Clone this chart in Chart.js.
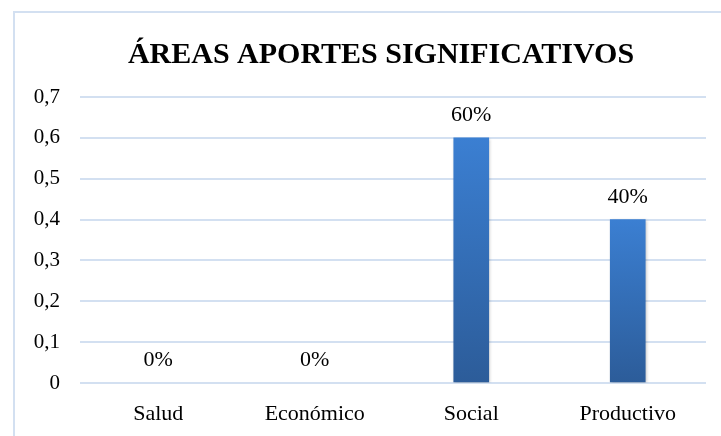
<!DOCTYPE html>
<html>
<head>
<meta charset="utf-8">
<script src="https://cdn.jsdelivr.net/npm/chart.js@4/dist/chart.umd.min.js"></script>
<style>
    html, body { margin: 0; padding: 0; background: #fff; overflow: hidden; }
    #wrap { position: absolute; left: 0; top: 0; width: 760px; height: 436px; }
</style>
</head>
<body>
<div id="wrap"><canvas id="areasChart"></canvas></div>
<script>
// Chart data
const categories = ['Salud', 'Económico', 'Social', 'Productivo'];
const values = [0, 0, 0.6, 0.4];
const yTickLabels = ['0', '0,1', '0,2', '0,3', '0,4', '0,5', '0,6', '0,7'];
const titleText = 'ÁREAS APORTES SIGNIFICATIVOS';

const serif = "'Liberation Serif', 'Times New Roman', Times, serif";

// Outer frame + title (the frame is cropped on the right and bottom like the original)
const framePlugin = {
    id: 'frame',
    beforeDraw(chart) {
        const ctx = chart.ctx;
        ctx.save();
        ctx.strokeStyle = '#d3e0f1';
        ctx.lineWidth = 2;
        ctx.strokeRect(14, 12, 900, 900);
        ctx.fillStyle = '#000';
        ctx.font = 'bold 30px ' + serif;
        ctx.textAlign = 'center';
        ctx.textBaseline = 'alphabetic';
        ctx.fillText(titleText, 381, 63);
        ctx.restore();
    }
};

// Soft shadow behind bars
const shadowPlugin = {
    id: 'barShadow',
    beforeDatasetsDraw(chart) {
        const ctx = chart.ctx;
        ctx.save();
        ctx.shadowColor = 'rgba(0, 0, 0, 0.25)';
        ctx.shadowBlur = 3;
        ctx.shadowOffsetX = 1;
        ctx.shadowOffsetY = 1;
    },
    afterDatasetsDraw(chart) {
        chart.ctx.restore();
    }
};

// Percent labels above each bar
const valueLabels = {
    id: 'valueLabels',
    afterDatasetsDraw(chart) {
        const ctx = chart.ctx;
        const meta = chart.getDatasetMeta(0);
        ctx.save();
        ctx.font = '22px ' + serif;
        ctx.fillStyle = '#000';
        ctx.textAlign = 'center';
        ctx.textBaseline = 'alphabetic';
        meta.data.forEach((bar, i) => {
            const label = Math.round(values[i] * 100) + '%';
            ctx.fillText(label, bar.x, bar.y - 17);
        });
        ctx.restore();
    }
};

function barGradient(context) {
    const chart = context.chart;
    if (!context.raw) return 'rgba(0,0,0,0)';
    if (!chart.chartArea) return '#3670bd';
    const y = chart.scales.y;
    const top = y.getPixelForValue(context.raw);
    const bottom = y.getPixelForValue(0);
    const g = chart.ctx.createLinearGradient(0, top, 0, bottom);
    g.addColorStop(0, '#3b7fd2');
    g.addColorStop(1, '#2c5c99');
    return g;
}

function drawChart() {
    const ctx = document.getElementById('areasChart').getContext('2d');
    new Chart(ctx, {
        type: 'bar',
        data: {
            labels: categories,
            datasets: [{
                data: values,
                backgroundColor: barGradient,
                borderWidth: 0,
                barThickness: 35
            }]
        },
        options: {
            responsive: true,
            maintainAspectRatio: false,
            animation: false,
            layout: {
                padding: { left: 0, right: 54, top: 97, bottom: 0 }
            },
            plugins: {
                legend: { display: false },
                tooltip: { enabled: false },
                title: { display: false }
            },
            scales: {
                x: {
                    grid: { display: false },
                    border: { display: false },
                    ticks: {
                        color: '#000',
                        font: { family: serif, size: 22 },
                        padding: 10,
                        maxRotation: 0
                    },
                    afterFit(scale) { scale.height = 53; }
                },
                y: {
                    min: 0,
                    max: 0.7,
                    grid: {
                        color: '#d3e0f1',
                        lineWidth: 2,
                        drawTicks: false
                    },
                    border: { display: false },
                    ticks: {
                        stepSize: 0.1,
                        color: '#000',
                        font: { family: serif, size: 21 },
                        padding: 20,
                        callback: (value, index) => yTickLabels[index]
                    },
                    afterFit(scale) { scale.width = 80; }
                }
            }
        },
        plugins: [framePlugin, shadowPlugin, valueLabels]
    });
}

// make sure the serif face is ready before painting
document.fonts.load('bold 30px "Liberation Serif"')
    .then(() => document.fonts.load('22px "Liberation Serif"'))
    .then(drawChart, drawChart);
</script>
</body>
</html>
